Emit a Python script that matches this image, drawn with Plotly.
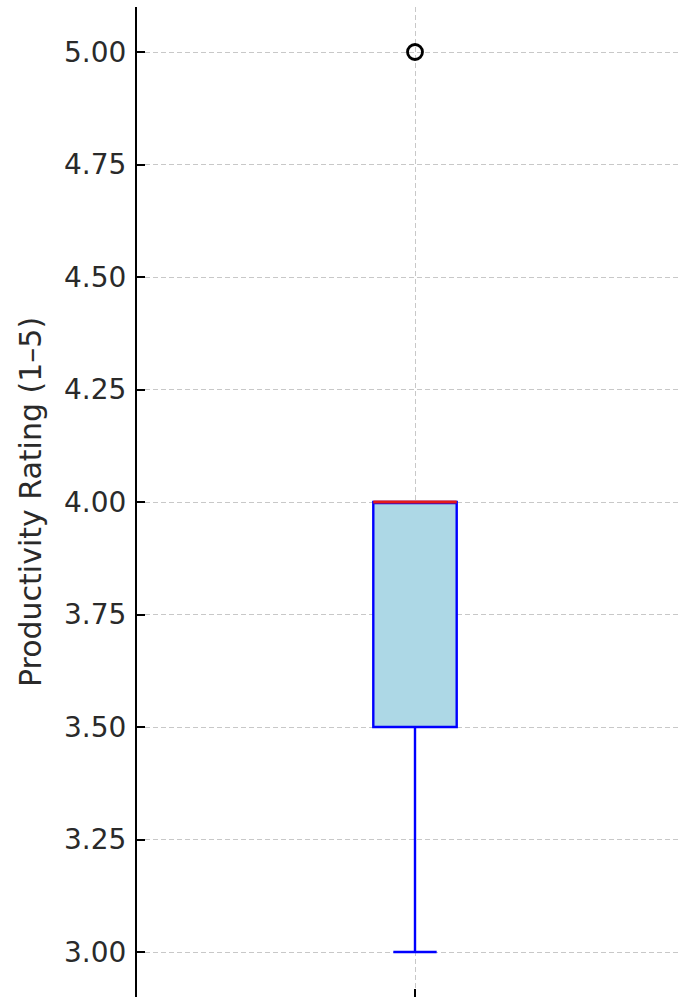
import plotly.graph_objects as go

# Data
group_x = [1]
q1_vals = [3.5]
median_vals = [4.0]
q3_vals = [4.0]
lower_vals = [3.0]
upper_vals = [4.0]
outlier_x = [1]
outlier_y = [5.0]
y_ticks = [3.00, 3.25, 3.50, 3.75, 4.00, 4.25, 4.50, 4.75, 5.00]
y_title = "Productivity Rating (1–5)"

BOX_W = 0.15
FONT = "DejaVu Sans"

fig = go.Figure()
fig.add_trace(go.Box(
    x=group_x, q1=q1_vals, median=median_vals, q3=q3_vals,
    lowerfence=lower_vals, upperfence=upper_vals,
    width=BOX_W, whiskerwidth=0.52,
    fillcolor="#add8e6", line=dict(color="#0000ff", width=2.4),
    boxpoints=False, showlegend=False, hoverinfo="skip",
))
# red median line drawn over the box
for xv, m in zip(group_x, median_vals):
    fig.add_trace(go.Scatter(
        x=[xv - BOX_W / 2, xv + BOX_W / 2], y=[m, m], mode="lines",
        line=dict(color="#e41a1a", width=2.8), showlegend=False, hoverinfo="skip",
    ))
fig.add_trace(go.Scatter(
    x=outlier_x, y=outlier_y, mode="markers",
    marker=dict(symbol="circle-open", size=15, color="black", line=dict(width=2.8)),
    showlegend=False, hoverinfo="skip",
))

fig.update_layout(
    width=681, height=997,
    margin=dict(l=137, r=0, t=7, b=0),
    paper_bgcolor="white", plot_bgcolor="white",
    font=dict(family=FONT, size=28, color="#2a2a2a"),
    showlegend=False,
)
fig.update_xaxes(
    range=[0.5, 0.5 + 544 / 556], tickvals=group_x, ticktext=[""],
    showgrid=True, gridcolor="#c8c8c8", griddash="5px,3px", gridwidth=1,
    ticks="inside", ticklen=8, tickwidth=1.5, tickcolor="black",
    showline=False, zeroline=False,
)
fig.update_yaxes(
    range=[2.9, 5.1], tickvals=y_ticks, ticktext=[f"{v:.2f}" for v in y_ticks],
    showgrid=True, gridcolor="#c8c8c8", griddash="5px,3px", gridwidth=1,
    ticks="inside", ticklen=8, tickwidth=1.5, tickcolor="black",
    showline=True, linecolor="black", linewidth=2,
    zeroline=False, ticklabelstandoff=3,
    title=dict(text=y_title, font=dict(family=FONT, size=30, color="#2a2a2a"), standoff=14),
)

fig.write_html(
    "out.html",
    config={"displayModeBar": False},
    post_script="document.body.style.margin='0';document.body.style.overflow='hidden';",
)
